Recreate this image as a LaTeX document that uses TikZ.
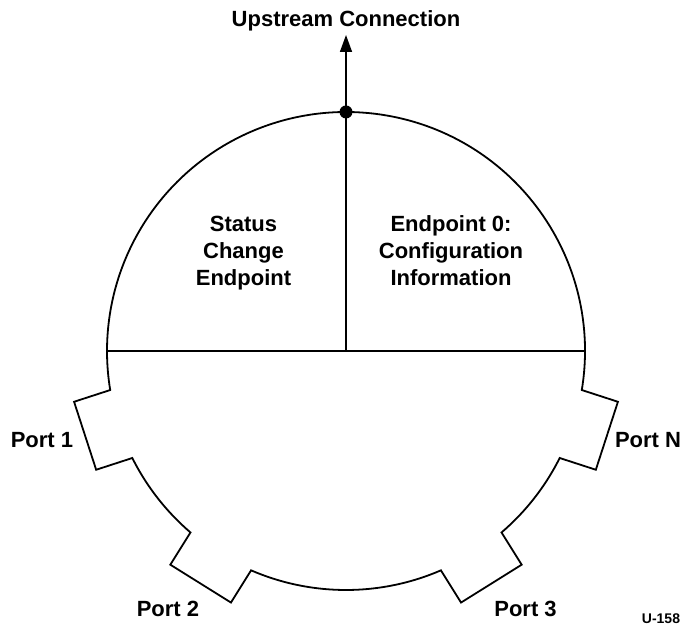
\documentclass[tikz,border=0pt]{standalone}
\usepackage{fontspec}
\setmainfont{Liberation Sans}
\usetikzlibrary{arrows.meta,calc}

\begin{document}
\begin{tikzpicture}[x=1pt, y=1pt, >={Triangle[length=17pt,width=12pt]},
    every node/.style={font=\bfseries\fontsize{22}{27}\selectfont, align=center, inner sep=0pt}]
  \def\R{239}
  \def\d{38}
  \useasboundingbox (-346,-285) rectangle (338,351);

  \coordinate (hub) at (0,0);
  \coordinate (west) at (180:\R);
  \coordinate (east) at (0:\R);
  \coordinate (top) at (90:\R);
  \coordinate (tip) at (0,316);

  % hub outline with the four port tabs
  \draw[line width=1.8pt, line join=miter]
    (350.6:\R) arc[start angle=-9.4, end angle=189.4, radius=\R]
    -- ($(189.4:\R)+(198:\d)$) -- ($(206.6:\R)+(198:\d)$) -- (206.6:\R)
    arc[start angle=206.6, end angle=229.4, radius=\R]
    -- ($(229.4:\R)+(238:\d)$) -- ($(246.6:\R)+(238:\d)$) -- (246.6:\R)
    arc[start angle=246.6, end angle=293.4, radius=\R]
    -- ($(293.4:\R)+(302:\d)$) -- ($(310.6:\R)+(302:\d)$) -- (310.6:\R)
    arc[start angle=310.6, end angle=333.4, radius=\R]
    -- ($(333.4:\R)+(342:\d)$) -- ($(350.6:\R)+(342:\d)$) -- cycle;

  \draw[line width=1.5pt] (west) -- (east);
  \draw[line width=1.5pt] (hub) -- (top);
  \draw[line width=1.5pt, ->] (top) -- (tip);
  \fill (top) circle[radius=6.5];

  \node[anchor=base] (upstream) at (0,324) {Upstream Connection};
  \node (status) at (-102.5,98) {Status\\Change\\Endpoint};
  \node (config) at (105,100) {Endpoint 0:\\Configuration\\Information};

  \node[anchor=base] (port1) at (-304,-96) {Port 1};
  \node[anchor=base] (port2) at (-178,-265) {Port 2};
  \node[anchor=base] (port3) at (179.5,-265) {Port 3};
  \node[anchor=base] (portN) at (302,-96) {Port N};
  \node[anchor=base, font=\bfseries\fontsize{14}{16}\selectfont] (figno) at (315,-272) {U-158};
\end{tikzpicture}
\end{document}
